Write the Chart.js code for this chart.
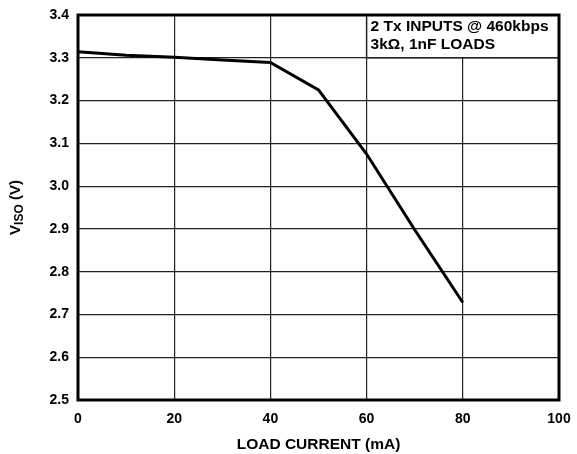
<!DOCTYPE html>
<html>
<head>
<meta charset="utf-8">
<script src="https://cdn.jsdelivr.net/npm/chart.js@4"></script>
<style>
  html, body { margin: 0; padding: 0; background: #fff; }
  #wrap { width: 577px; height: 454px; position: relative; }
</style>
</head>
<body>
<div id="wrap"><canvas id="grafico"></canvas></div>
<script>
// datos
const corrienteCarga = [0, 10, 20, 30, 40, 50, 60, 70, 80];
const voltajeIso = [3.314, 3.306, 3.301, 3.295, 3.289, 3.225, 3.075, 2.898, 2.728];
const notaLineas = ["2 Tx INPUTS @ 460kbps", "3k\u03A9, 1nF LOADS"];
const tituloX = "LOAD CURRENT (mA)";

const fuente = "'Liberation Sans', Arial, sans-serif";

// marco, recuadro de nota y título del eje Y con subíndice
const extras = {
    id: 'extras',
    beforeDatasetsDraw(chart) {
        const { ctx, scales: { x, y } } = chart;
        const x0 = x.getPixelForValue(60), x1 = x.getPixelForValue(100);
        const y0 = y.getPixelForValue(3.4), y1 = y.getPixelForValue(3.3);
        ctx.save();
        ctx.fillStyle = '#fff';
        ctx.fillRect(x0, y0, x1 - x0, y1 - y0);
        ctx.strokeStyle = '#222';
        ctx.lineWidth = 1.5;
        ctx.strokeRect(x0, y0, x1 - x0, y1 - y0);
        ctx.fillStyle = '#000';
        ctx.font = "bold 15.5px " + fuente;
        ctx.textBaseline = 'middle';
        ctx.fillText(notaLineas[0], x0 + 4, y0 + 12);
        ctx.fillText(notaLineas[1], x0 + 4, y0 + 30);
        ctx.restore();
    },
    afterDraw(chart) {
        const { ctx, chartArea: a } = chart;
        ctx.save();
        ctx.strokeStyle = '#000';
        ctx.lineWidth = 3;
        ctx.strokeRect(a.left, a.top, a.right - a.left, a.bottom - a.top);

        // V_ISO (V) girado
        ctx.translate(16, (a.top + a.bottom) / 2);
        ctx.rotate(-Math.PI / 2);
        ctx.fillStyle = '#000';
        ctx.textBaseline = 'middle';
        const fGrande = "bold 15px " + fuente, fPeq = "bold 12px " + fuente;
        ctx.font = fGrande; const wV = ctx.measureText("V").width;
        ctx.font = fPeq; const wS = ctx.measureText("ISO").width;
        ctx.font = fGrande; const wR = ctx.measureText(" (V)").width;
        let px = -(wV + wS + wR) / 2;
        ctx.font = fGrande; ctx.fillText("V", px, 0); px += wV;
        ctx.font = fPeq; ctx.fillText("ISO", px, 4); px += wS;
        ctx.font = fGrande; ctx.fillText(" (V)", px, 0);
        ctx.restore();
    }
};

new Chart(document.getElementById('grafico'), {
    type: 'line',
    data: {
        datasets: [{
            data: corrienteCarga.map((c, i) => ({ x: c, y: voltajeIso[i] })),
            borderColor: '#000',
            borderWidth: 3,
            pointRadius: 0,
            tension: 0,
            fill: false
        }]
    },
    options: {
        responsive: true,
        maintainAspectRatio: false,
        animation: false,
        layout: { padding: { left: 0, right: 18, top: 15, bottom: 0 } },
        plugins: {
            legend: { display: false },
            tooltip: { enabled: false }
        },
        scales: {
            x: {
                type: 'linear',
                min: 0, max: 100,
                afterFit: (s) => { s.height = 54; s.paddingLeft = 0; s.paddingRight = 0; },
                grid: { color: '#222', lineWidth: 1.2, drawTicks: false },
                border: { display: false },
                ticks: {
                    stepSize: 20,
                    padding: 11,
                    color: '#000',
                    font: { family: fuente, size: 14, weight: 'bold' }
                },
                title: {
                    display: true,
                    text: tituloX,
                    color: '#000',
                    padding: { top: 2, bottom: 0 },
                    font: { family: fuente, size: 15.5, weight: 'bold' }
                }
            },
            y: {
                min: 2.5, max: 3.4,
                afterFit: (s) => { s.width = 78; s.paddingTop = 0; s.paddingBottom = 0; },
                grid: { color: '#222', lineWidth: 1.2, drawTicks: false },
                border: { display: false },
                ticks: {
                    stepSize: 0.1,
                    padding: 9,
                    color: '#000',
                    font: { family: fuente, size: 14, weight: 'bold' },
                    callback: (v) => v.toFixed(1)
                }
            }
        }
    },
    plugins: [extras]
});
</script>
</body>
</html>
